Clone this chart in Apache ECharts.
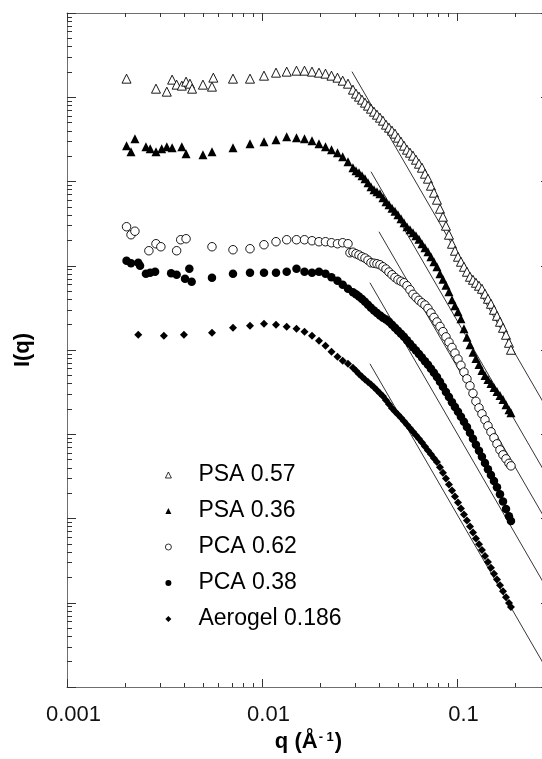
<!DOCTYPE html>
<html>
<head>
<meta charset="utf-8">
<script src="https://cdn.jsdelivr.net/npm/echarts@6/dist/echarts.min.js"></script>
<style>
  html, body { margin: 0; padding: 0; background: #fff; }
  #chart { width: 542px; height: 759px; }
</style>
</head>
<body>
<div id="chart"></div>
<script>
// Scattering curves I(q) for polymer-derived and silica aerogels (arbitrary intensity units, offset per sample)

const seriesNames = ['PSA 0.57', 'PSA 0.36', 'PCA 0.62', 'PCA 0.38', 'Aerogel 0.186'];

// Common high-q measurement points (1/Å)
const qTail = [0.02928, 0.03034, 0.03144, 0.03257, 0.03375, 0.03497, 0.03622, 0.03753, 0.03888, 0.04028,
  0.04173, 0.04324, 0.0448, 0.04642, 0.04809, 0.04982, 0.05162, 0.05348, 0.05541, 0.05741,
  0.05948, 0.06162, 0.06384, 0.06614, 0.06853, 0.071, 0.07356, 0.07621, 0.07896, 0.08181,
  0.08476, 0.08781, 0.09098, 0.09427, 0.09766, 0.1012, 0.1048, 0.1086, 0.1125, 0.1166,
  0.1208, 0.1251, 0.1297, 0.1343, 0.1392, 0.1442, 0.1494, 0.1548, 0.1604, 0.1662,
  0.1722, 0.1784, 0.1848, 0.1892];

// PSA 0.57
const qLowPSA57 = [0.00202, 0.00286, 0.00325, 0.00346, 0.00365, 0.00388, 0.00408, 0.00427, 0.00438, 0.00498,
  0.00554, 0.00563, 0.0071, 0.00868, 0.01024, 0.0118, 0.01339, 0.01503, 0.01652, 0.01805,
  0.0196, 0.02117, 0.02272, 0.02439, 0.02594, 0.02761];
const iLowPSA57 = [1.662e7, 1.264e7, 1.165e7, 1.618e7, 1.411e7, 1.373e7, 1.531e7, 1.449e7, 1.264e7, 1.411e7,
  1.336e7, 1.708e7, 1.662e7, 1.662e7, 1.804e7, 1.958e7, 2.013e7, 2.068e7, 2.068e7, 2.013e7,
  1.958e7, 1.905e7, 1.804e7, 1.708e7, 1.573e7, 1.449e7];
const iTailPSA57 = [1.231e7, 1.104e7, 1.016e7, 9.365e6, 8.628e6, 7.948e6, 7.320e6, 6.745e6, 6.214e6, 5.724e6,
  5.274e6, 4.728e6, 4.355e6, 4.012e6, 3.696e6, 3.313e6, 2.970e6, 2.662e6, 2.386e6, 2.198e6,
  2.025e6, 1.815e6, 1.627e6, 1.458e6, 1.238e6, 1.080e6, 8.915e5, 7.362e5, 6.080e5, 4.753e5,
  3.819e5, 2.986e5, 2.334e5, 1.825e5, 1.507e5, 1.279e5, 1.116e5, 9.730e4, 8.486e4, 7.403e4,
  6.819e4, 6.283e4, 5.788e4, 5.331e4, 4.651e4, 4.057e4, 3.537e4, 3.002e4, 2.548e4, 2.163e4,
  1.835e4, 1.516e4, 1.218e4, 1.006e4];

// PSA 0.36
const qLowPSA36 = [0.00202, 0.00213, 0.00223, 0.00254, 0.00267, 0.00286, 0.00306, 0.00325, 0.00346, 0.00388,
  0.00408, 0.00498, 0.00554, 0.0071, 0.00868, 0.01024, 0.0118, 0.01339, 0.01503, 0.01652,
  0.01805, 0.0196, 0.02117, 0.02272, 0.02439, 0.02594, 0.02761];
const iLowPSA36 = [2.662e6, 2.259e6, 3.224e6, 2.590e6, 2.452e6, 2.259e6, 2.452e6, 2.590e6, 2.520e6, 2.590e6,
  2.139e6, 2.081e6, 2.259e6, 2.520e6, 2.811e6, 2.970e6, 3.136e6, 3.405e6, 3.313e6, 3.224e6,
  3.051e6, 2.811e6, 2.590e6, 2.386e6, 2.198e6, 1.970e6, 1.719e6];
const iTailPSA36 = [1.458e6, 1.344e6, 1.272e6, 1.172e6, 1.080e6, 9.676e5, 8.675e5, 7.991e5, 7.565e5, 7.164e5,
  6.422e5, 5.757e5, 5.303e5, 4.819e5, 4.439e5, 4.034e5, 3.615e5, 3.241e5, 2.905e5, 2.677e5,
  2.466e5, 2.272e5, 2.064e5, 1.825e5, 1.636e5, 1.466e5, 1.279e5, 1.116e5, 9.730e4, 8.035e4,
  6.914e4, 5.867e4, 4.912e4, 3.948e4, 3.349e4, 2.842e4, 2.347e4, 1.786e4, 1.415e4, 1.153e4,
  9.391e3, 7.925e3, 6.726e3, 5.708e3, 4.993e3, 4.476e3, 4.012e3, 3.595e3, 3.224e3, 2.889e3,
  2.590e3, 2.235e3, 1.949e3, 1.796e3];

// PCA 0.62
const qLowPCA62 = [0.00202, 0.00213, 0.00223, 0.00263, 0.00286, 0.00303, 0.00365, 0.00383, 0.00408, 0.00554,
  0.0071, 0.00868, 0.01024, 0.0118, 0.01339, 0.01503, 0.01652, 0.01805, 0.0196, 0.02117,
  0.02272, 0.02439, 0.02594, 0.02761, 0.02827];
const iLowPCA62 = [2.905e5, 2.334e5, 2.569e5, 1.507e5, 1.825e5, 1.681e5, 1.507e5, 2.036e5, 2.092e5, 1.681e5,
  1.549e5, 1.592e5, 1.776e5, 1.928e5, 2.036e5, 2.036e5, 2.036e5, 1.981e5, 1.928e5, 1.928e5,
  1.876e5, 1.825e5, 1.876e5, 1.825e5, 1.427e5];
const iTailPCA62 = [1.447e5, 1.388e5, 1.340e5, 1.279e5, 1.234e5, 1.162e5, 1.086e5, 1.071e5, 1.056e5, 1.028e5,
  9.730e4, 9.138e4, 8.418e4, 7.818e4, 7.261e4, 6.819e4, 6.545e4, 6.283e4, 5.788e4, 5.188e4,
  4.575e4, 4.215e4, 3.882e4, 3.635e4, 3.415e4, 3.111e4, 2.751e4, 2.432e4, 2.150e4, 1.901e4,
  1.650e4, 1.431e4, 1.238e4, 1.071e4, 9.162e3, 7.797e3, 6.581e3, 5.465e3, 4.550e3, 3.757e3,
  3.059e3, 2.459e3, 2.058e3, 1.747e3, 1.483e3, 1.258e3, 1.068e3, 9.063e2, 7.691e2, 6.527e2,
  5.692e2, 5.105e2, 4.512e2, 4.215e2];

// PCA 0.38
const qLowPCA38 = [0.00202, 0.00213, 0.00232, 0.00237, 0.00254, 0.00267, 0.00283, 0.00342, 0.00365, 0.00403,
  0.00424, 0.00436, 0.00554, 0.0071, 0.00868, 0.01024, 0.0118, 0.01339, 0.01503, 0.01652,
  0.01805, 0.0196, 0.02117, 0.02272, 0.02439, 0.02594, 0.02761];
const iLowPCA38 = [1.147e5, 1.071e5, 1.086e5, 1.000e5, 8.035e4, 8.258e4, 8.486e4, 8.146e4, 7.818e4, 7.007e4,
  9.212e4, 6.457e4, 7.202e4, 8.035e4, 8.258e4, 8.258e4, 8.258e4, 8.486e4, 9.212e4, 8.486e4,
  8.258e4, 8.486e4, 8.035e4, 7.302e4, 6.635e4, 5.949e4, 5.331e4];
const iTailPCA38 = [4.846e4, 4.575e4, 4.307e4, 4.034e4, 3.736e4, 3.442e4, 3.171e4, 2.937e4, 2.751e4, 2.576e4,
  2.412e4, 2.296e4, 2.162e4, 1.992e4, 1.835e4, 1.690e4, 1.557e4, 1.435e4, 1.307e4, 1.188e4,
  1.077e4, 9.838e3, 8.966e3, 8.124e3, 7.362e3, 6.671e3, 5.997e3, 5.375e3, 4.792e3, 4.203e3,
  3.655e3, 3.180e3, 2.766e3, 2.406e3, 2.104e3, 1.845e3, 1.618e3, 1.411e3, 1.218e3, 1.039e3,
  8.820e2, 7.483e2, 6.352e2, 5.391e2, 4.550e2, 3.830e2, 3.277e2, 2.789e2, 2.347e2, 1.944e2,
  1.596e2, 1.300e2, 1.065e2, 9.365e1];

// Aerogel 0.186
const qLowAerogel = [0.00232, 0.00314, 0.00398, 0.00554, 0.0071, 0.00868, 0.01024, 0.0118, 0.01339, 0.01503,
  0.01652, 0.01805, 0.0196, 0.02117, 0.02272, 0.02439, 0.02594, 0.02761];
const iLowAerogel = [1.515e4, 1.474e4, 1.515e4, 1.601e4, 1.835e4, 1.939e4, 2.047e4, 1.992e4, 1.886e4, 1.786e4,
  1.645e4, 1.474e4, 1.286e4, 1.122e4, 9.520e3, 8.303e3, 7.441e3, 6.857e3];
const iTailAerogel = [6.147e3, 5.662e3, 5.172e3, 4.805e3, 4.463e3, 4.169e3, 3.882e3, 3.615e3, 3.331e3, 3.068e3,
  2.827e3, 2.541e3, 2.278e3, 2.042e3, 1.860e3, 1.714e3, 1.570e3, 1.431e3, 1.300e3, 1.181e3,
  1.074e3, 9.757e2, 8.867e2, 7.970e2, 7.145e2, 6.422e2, 5.771e2, 5.201e2, 4.676e2, 4.045e2,
  3.499e2, 2.977e2, 2.527e2, 2.145e2, 1.825e2, 1.549e2, 1.315e2, 1.113e2, 9.443e1, 8.014e1,
  6.819e1, 5.803e1, 4.953e1, 4.215e1, 3.585e1, 3.051e1, 2.604e1, 2.216e1, 1.886e1, 1.609e1,
  1.369e1, 1.166e1, 9.918, 8.915];

// Porod-type power-law guide lines (start and end of each segment)
const fitStartQ = [0.02894, 0.03622, 0.03981, 0.03579, 0.03579];
const fitStartI = [2.014e7, 1.307e6, 2.534e5, 6.283e4, 6.857e3];
const fitEndQ   = [0.3, 0.3, 0.3, 0.3, 0.3];
const fitEndI   = [1744, 277.6, 78.6, 12.72, 1.389];

// Axis ticks and labels
const xMajorTicks = [0.001, 0.01, 0.1];
const xTickLabels = ['0.001', '0.01', '0.1'];
const yMajorTicks = [1, 1e1, 1e2, 1e3, 1e4, 1e5, 1e6, 1e7, 1e8];

const xMinorTicks = [];
[0.001, 0.01, 0.1].forEach(d => {
  for (let k = 2; k <= 9; k++) {
    const v = Number((k * d).toPrecision(6));
    if (v <= 0.3) xMinorTicks.push(v);
  }
});
const yMinorTicks = [];
for (let e = 0; e < 8; e++) {
  for (let k = 2; k <= 9; k++) yMinorTicks.push(Number((k * Math.pow(10, e)).toPrecision(6)));
}

const FONT = '"Liberation Sans", Arial, Helvetica, sans-serif';
const X_MIN = 0.001, X_MAX = 0.3, Y_MIN = 1, Y_MAX = 1e8;
const frameLine = { color: '#6e6e6e', width: 1 };
const tickLine = { color: '#333', width: 1 };

function pairs(qs, vals) { return qs.map((q, k) => [q, vals[k]]); }

function xAxisDef(position, ticks, len, showLine, extra) {
  return Object.assign({
    type: 'log', logBase: 10, min: X_MIN, max: X_MAX, position: position,
    axisLine: { show: showLine, onZero: false, lineStyle: frameLine },
    axisTick: { show: true, inside: true, length: len, customValues: ticks, lineStyle: tickLine },
    axisLabel: { show: false },
    minorTick: { show: false },
    splitLine: { show: false },
    silent: true
  }, extra || {});
}
function yAxisDef(position, ticks, len, showLine, extra) {
  return Object.assign({
    type: 'log', logBase: 10, min: Y_MIN, max: Y_MAX, position: position,
    axisLine: { show: showLine, onZero: false, lineStyle: frameLine },
    axisTick: { show: true, inside: true, length: len, customValues: ticks, lineStyle: tickLine },
    axisLabel: { show: false },
    minorTick: { show: false },
    splitLine: { show: false },
    silent: true
  }, extra || {});
}

const hollow = { color: '#fff', borderColor: '#000', borderWidth: 0.9, opacity: 1 };
const solid = { color: '#000', borderWidth: 0, opacity: 1 };

const series = [
  {
    name: seriesNames[0], type: 'scatter', symbol: 'triangle', symbolSize: 9,
    itemStyle: hollow,
    data: pairs(qLowPSA57.concat(qTail), iLowPSA57.concat(iTailPSA57))
  },
  {
    name: seriesNames[1], type: 'scatter', symbol: 'triangle', symbolSize: 9,
    itemStyle: solid,
    data: pairs(qLowPSA36.concat(qTail), iLowPSA36.concat(iTailPSA36))
  },
  {
    name: seriesNames[2], type: 'scatter', symbol: 'circle', symbolSize: 8.5,
    itemStyle: hollow,
    data: pairs(qLowPCA62.concat(qTail), iLowPCA62.concat(iTailPCA62))
  },
  {
    name: seriesNames[3], type: 'scatter', symbol: 'circle', symbolSize: 8.5,
    itemStyle: solid,
    data: pairs(qLowPCA38.concat(qTail), iLowPCA38.concat(iTailPCA38))
  },
  {
    name: seriesNames[4], type: 'scatter', symbol: 'diamond', symbolSize: 8,
    itemStyle: solid,
    data: pairs(qLowAerogel.concat(qTail), iLowAerogel.concat(iTailAerogel))
  }
];
series.forEach(s => { s.emphasis = { disabled: true }; });

fitStartQ.forEach((q0, k) => {
  series.push({
    name: 'fit ' + k, type: 'line', symbol: 'none', silent: true,
    lineStyle: { color: '#000', width: 0.8 },
    data: [[q0, fitStartI[k]], [fitEndQ[k], fitEndI[k]]],
    z: 1
  });
});

const option = {
  animation: false,
  backgroundColor: '#fff',
  grid: { left: 67, right: -8, top: 13, bottom: 72, outerBoundsMode: 'none', containLabel: false },
  legend: {
    data: seriesNames,
    orient: 'vertical', left: 160, top: 458,
    itemWidth: 6, itemHeight: 6, itemGap: 12,
    selectedMode: false,
    itemStyle: { borderWidth: 0.8 },
    textStyle: { fontFamily: FONT, fontSize: 23, color: '#000', lineHeight: 24, padding: [0, 0, 0, 22] }
  },
  xAxis: [
    xAxisDef('bottom', xMajorTicks, 8, true, {
      axisLabel: {
        show: true, customValues: xMajorTicks, margin: 17,
        fontFamily: FONT, fontSize: 22, color: '#111', padding: [0, 0, 0, 13],
        formatter: v => {
          const k = xMajorTicks.findIndex(t => Math.abs(t - v) <= t * 1e-6);
          return k >= 0 ? xTickLabels[k] : '';
        }
      },
      name: '{b|q (Å}{s|- 1}{b|)}',
      nameLocation: 'middle', nameGap: 38,
      nameTextStyle: {
        fontFamily: FONT, fontWeight: 'bold', fontSize: 22, color: '#000',
        rich: {
          b: { fontFamily: FONT, fontWeight: 'bold', fontSize: 22, color: '#000' },
          s: { fontFamily: FONT, fontWeight: 'bold', fontSize: 13, color: '#000', verticalAlign: 'top', padding: [0, 1, 0, 1] }
        }
      }
    }),
    xAxisDef('bottom', xMinorTicks, 4, false),
    xAxisDef('top', xMajorTicks, 8, true),
    xAxisDef('top', xMinorTicks, 4, false)
  ],
  yAxis: [
    yAxisDef('left', yMajorTicks, 9, true, {
      name: 'I(q)', nameLocation: 'middle', nameRotate: 90, nameGap: 33,
      nameTextStyle: { fontFamily: FONT, fontWeight: 'bold', fontSize: 22, color: '#000' }
    }),
    yAxisDef('left', yMinorTicks, 5, false),
    yAxisDef('right', yMajorTicks, 9, true),
    yAxisDef('right', yMinorTicks, 5, false)
  ],
  series: series
};

const chart = echarts.init(document.getElementById('chart'), null, { renderer: 'canvas' });
chart.setOption(option);
</script>
</body>
</html>
